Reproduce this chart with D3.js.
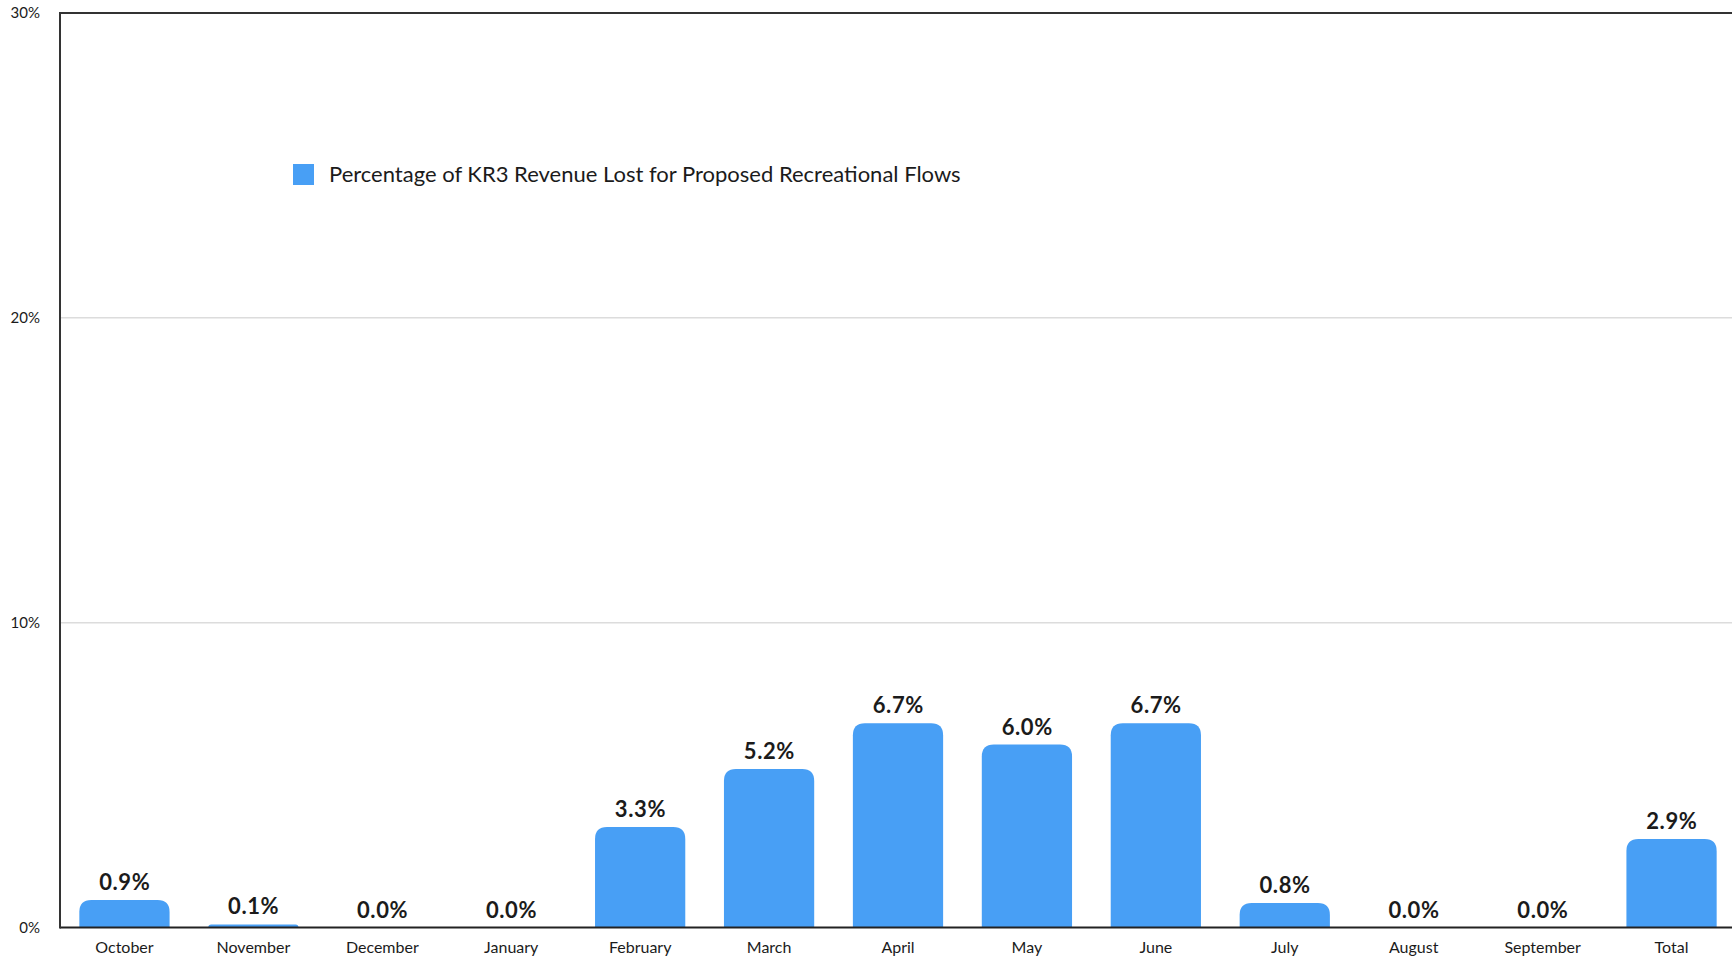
<!DOCTYPE html>
<html>
<head>
<meta charset="utf-8">
<script src="https://cdn.jsdelivr.net/npm/d3@7"></script>
<style>
  html, body { margin: 0; padding: 0; background: #fff; }
  svg { display: block; font-family: Lato, "Open Sans", sans-serif; }
</style>
</head>
<body>
<svg id="chart" width="1732" height="959"></svg>
<script>
// Monthly share of KR3 revenue lost under the proposed recreational flows
const categories = ["October", "November", "December", "January", "February", "March",
  "April", "May", "June", "July", "August", "September", "Total"];
const values = [0.9, 0.1, 0.0, 0.0, 3.3, 5.2, 6.7, 6.0, 6.7, 0.8, 0.0, 0.0, 2.9];
const yTicks = [0, 10, 20, 30];
const seriesName = "Percentage of KR3 Revenue Lost for Proposed Recreational Flows";

const svg = d3.select("#chart");
const margin = { left: 60, top: 13, bottom: 31 };
const W = 1732, H = 959;
const barColor = "#489ff5";
const ink = "#1b1b1b";

const x = d3.scaleBand()
  .domain(categories)
  .range([margin.left, 1736])
  .paddingInner(0.3)
  .paddingOuter(0.15);

const y = d3.scaleLinear()
  .domain([0, 30])
  .range([H - margin.bottom - 0.5, margin.top]);

// horizontal gridlines
svg.append("g")
  .selectAll("line")
  .data(yTicks.filter(t => t > 0 && t < 30))
  .join("line")
  .attr("x1", margin.left).attr("x2", W)
  .attr("y1", d => y(d)).attr("y2", d => y(d))
  .attr("stroke", "#dcdcdc").attr("stroke-width", 1.5);

// top frame line
svg.append("line")
  .attr("x1", margin.left).attr("x2", W)
  .attr("y1", y(30)).attr("y2", y(30))
  .attr("stroke", "#333").attr("stroke-width", 2);

// y axis labels
const yAxis = d3.axisLeft(y).tickValues(yTicks).tickSize(0).tickPadding(20)
  .tickFormat(d => d + "%");
const gy = svg.append("g").attr("transform", `translate(${margin.left},0)`).call(yAxis);
gy.select(".domain").remove();
gy.selectAll("text")
  .attr("font-size", 15).attr("fill", ink)
  .attr("font-family", "Lato, sans-serif");

// rounded-top bar path
function barPath(x0, w, yTop, yBase, r) {
  const h = yBase - yTop;
  if (h <= 0) return "";
  const rr = Math.min(r, h, w / 2);
  return `M${x0},${yBase}V${yTop + rr}Q${x0},${yTop} ${x0 + rr},${yTop}` +
    `H${x0 + w - rr}Q${x0 + w},${yTop} ${x0 + w},${yTop + rr}V${yBase}Z`;
}

svg.append("g")
  .selectAll("path")
  .data(values)
  .join("path")
  .attr("d", (d, i) => barPath(x(categories[i]), x.bandwidth(), y(d), y(0), 12))
  .attr("fill", barColor);

// value labels
svg.append("g")
  .selectAll("text")
  .data(values)
  .join("text")
  .attr("x", (d, i) => x(categories[i]) + x.bandwidth() / 2 + 0.3)
  .attr("y", d => y(d) - 10)
  .attr("text-anchor", "middle")
  .attr("font-size", 22)
  .attr("font-weight", 700)
  .attr("letter-spacing", 0.6)
  .attr("fill", ink)
  .text(d => d.toFixed(1) + "%");

// axes lines
svg.append("line")
  .attr("x1", margin.left).attr("x2", W)
  .attr("y1", y(0)).attr("y2", y(0))
  .attr("stroke", "#222").attr("stroke-width", 2);
svg.append("line")
  .attr("x1", margin.left).attr("x2", margin.left)
  .attr("y1", y(30) - 1).attr("y2", y(0) + 1)
  .attr("stroke", "#333").attr("stroke-width", 2);

// category labels
const xAxis = d3.axisBottom(x).tickSize(0).tickPadding(14);
const gx = svg.append("g").attr("transform", `translate(0,${y(0)})`).call(xAxis);
gx.select(".domain").remove();
gx.selectAll("text")
  .attr("font-size", 16).attr("fill", ink)
  .attr("font-family", "Lato, sans-serif");

// legend
const legend = svg.append("g").attr("transform", "translate(293,164)");
legend.append("rect").attr("width", 21).attr("height", 21).attr("fill", barColor);
legend.append("text")
  .attr("x", 36).attr("y", 18)
  .attr("font-size", 22)
  .attr("fill", ink)
  .text(seriesName);
</script>
</body>
</html>
